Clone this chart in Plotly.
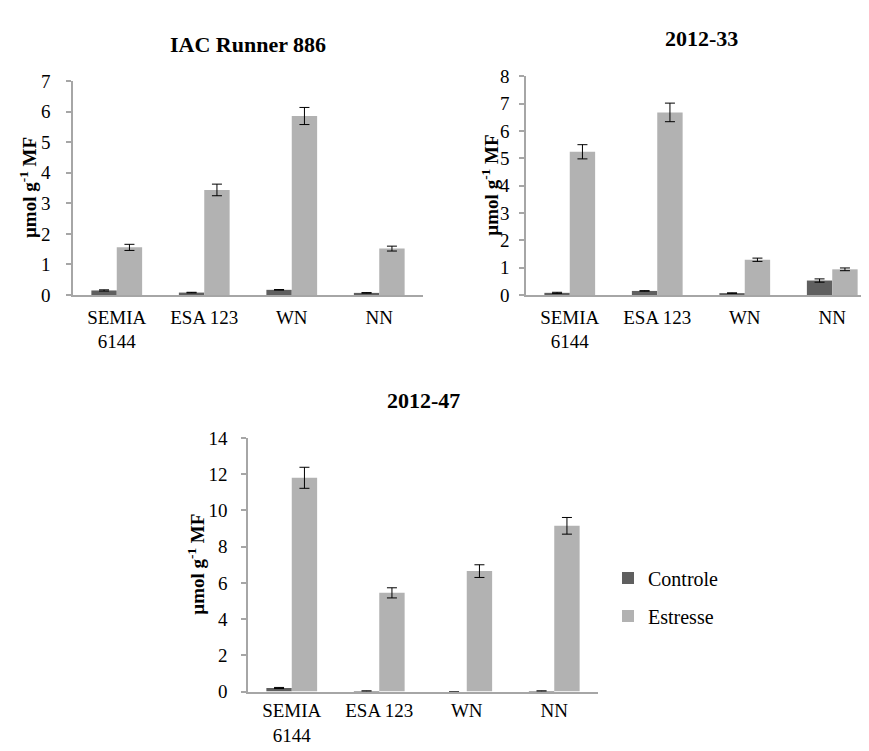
import plotly.graph_objects as go

W, H = 869, 751

categories = ["SEMIA<br>6144", "ESA 123", "WN", "NN"]
series_names = ["Controle", "Estresse"]

# IAC Runner 886
iac_controle = [0.15, 0.08, 0.17, 0.07]
iac_controle_err = [0.02, 0.01, 0.01, 0.01]
iac_estresse = [1.56, 3.44, 5.86, 1.52]
iac_estresse_err = [0.10, 0.19, 0.28, 0.08]

# 2012-33
c33_controle = [0.08, 0.15, 0.07, 0.53]
c33_controle_err = [0.02, 0.01, 0.01, 0.06]
c33_estresse = [5.24, 6.68, 1.29, 0.94]
c33_estresse_err = [0.26, 0.34, 0.06, 0.05]

# 2012-47
c47_controle = [0.20, 0.03, 0.0, 0.03]
c47_controle_err = [0.03, 0.01, 0.0, 0.01]
c47_estresse = [11.8, 5.45, 6.65, 9.15]
c47_estresse_err = [0.58, 0.28, 0.35, 0.46]

titles = ["IAC Runner 886", "2012-33", "2012-47"]
y_ranges = [[0, 7], [0, 8], [0, 14]]
y_dticks = [1, 1, 2]
ylabel = "µmol g<sup>-1</sup> MF"

# layout (pixels)
panels = [
    dict(x0=65, x1=415, ytop=65, ybot=285, title_y=27, ylab_x=20, ystand=12, xstand=4),
    dict(x0=518, x1=868, ytop=60, ybot=285, title_y=21, ylab_x=482, ystand=6, xstand=4),
    dict(x0=240, x1=590, ytop=432, ybot=693, title_y=393, ylab_x=188, ystand=10, xstand=1),
]

col_ctrl = "#5f5f5f"
col_str = "#b2b2b2"
axis_col = "#a6a6a6"
FONT = "Liberation Serif"

data = [
    (iac_controle, iac_controle_err, iac_estresse, iac_estresse_err),
    (c33_controle, c33_controle_err, c33_estresse, c33_estresse_err),
    (c47_controle, c47_controle_err, c47_estresse, c47_estresse_err),
]

fig = go.Figure()
annotations = []
for i, (p, d) in enumerate(zip(panels, data)):
    xa = "x" if i == 0 else f"x{i+1}"
    ya = "y" if i == 0 else f"y{i+1}"
    ctrl, ctrl_e, stre, stre_e = d
    show = (i == 2)
    fig.add_trace(go.Bar(
        x=categories, y=ctrl, name=series_names[0], marker_color=col_ctrl,
        marker_line_width=0,
        error_y=dict(type="data", array=ctrl_e, color="black", thickness=1, width=5),
        xaxis=xa, yaxis=ya, showlegend=show, legendgroup="c"))
    fig.add_trace(go.Bar(
        x=categories, y=stre, name=series_names[1], marker_color=col_str,
        marker_line_width=0,
        error_y=dict(type="data", array=stre_e, color="black", thickness=1, width=5),
        xaxis=xa, yaxis=ya, showlegend=show, legendgroup="e"))

    xkey = "xaxis" if i == 0 else f"xaxis{i+1}"
    ykey = "yaxis" if i == 0 else f"yaxis{i+1}"
    fig.layout[xkey] = dict(
        domain=[p["x0"] / W, p["x1"] / W], anchor=ya,
        showline=True, linecolor=axis_col, linewidth=1.5,
        ticks="", showgrid=False, ticklabelstandoff=p["xstand"],
        tickfont=dict(family=FONT, size=19, color="black"),
        fixedrange=True)
    fig.layout[ykey] = dict(
        domain=[1 - p["ybot"] / H, 1 - p["ytop"] / H], anchor=xa,
        range=y_ranges[i], dtick=y_dticks[i], tick0=0,
        showline=True, linecolor=axis_col, linewidth=1.5,
        ticks="outside", ticklen=5, tickcolor=axis_col, tickwidth=1.5,
        ticklabelstandoff=p["ystand"],
        showgrid=False, zeroline=False,
        tickfont=dict(family=FONT, size=19, color="black"), fixedrange=True)
    annotations.append(dict(
        text=titles[i], xref="paper", yref="paper",
        x=(p["x0"] + p["x1"]) / 2 / W, y=1 - p["title_y"] / H,
        showarrow=False, xanchor="center", yanchor="middle",
        font=dict(family=FONT, size=22, color="black", weight="bold")))
    annotations.append(dict(
        text=ylabel, xref="paper", yref="paper", textangle=-90,
        x=p["ylab_x"] / W, y=1 - (p["ytop"] + p["ybot"]) / 2 / H,
        showarrow=False, xanchor="center", yanchor="middle",
        font=dict(family=FONT, size=19, color="black", weight="bold")))

fig.update_layout(
    width=W, height=H,
    margin=dict(l=0, r=0, t=0, b=0),
    paper_bgcolor="white", plot_bgcolor="white",
    barmode="group", bargap=0.42, bargroupgap=0,
    annotations=annotations,
    showlegend=True,
    legend=dict(x=600 / W, y=1 - 556 / H, xanchor="left", yanchor="top",
                font=dict(family=FONT, size=20, color="black"),
                traceorder="grouped", tracegroupgap=9,
                itemwidth=30, bgcolor="rgba(0,0,0,0)"),
    font=dict(family=FONT, color="black"),
)

fig.write_html("out.html")
